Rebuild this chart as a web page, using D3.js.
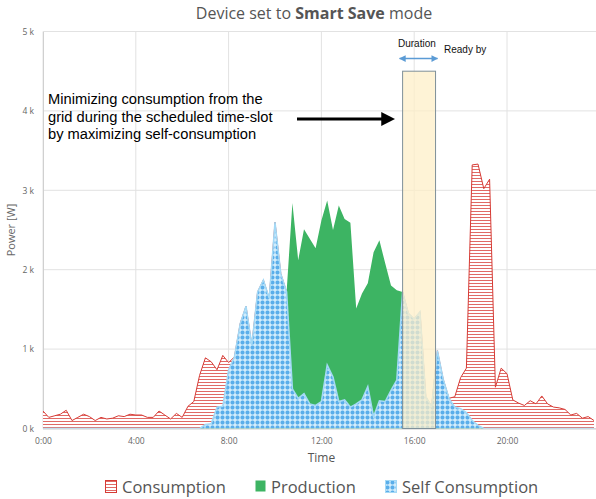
<!DOCTYPE html>
<html>
<head>
<meta charset="utf-8">
<script src="https://cdn.jsdelivr.net/npm/d3@7"></script>
<style>
  body { margin: 0; background: #fff; }
  svg { display: block; }
</style>
</head>
<body>
<div id="chart"></div>
<script>
// time axis, one sample every 15 minutes (0:00 .. 23:45)
const hours = d3.range(96).map(i => i * 0.25);

// power values in W
const consumption = [
  220, 140, 160, 180, 230, 100, 140, 180, 150, 100, 140, 120,
  130, 160, 150, 180, 170, 170, 140, 140, 220, 170, 120, 190,
  140, 280, 340, 670, 890, 840, 740, 920, 830, 900, 1320, 1540,
  1050, 1720, 1870, 1640, 2600, 1950, 1720, 500, 380, 440, 310, 290,
  340, 800, 650, 340, 360, 270, 310, 360, 530, 150, 350, 340,
  480, 610, 1720, 1450, 1380, 1470, 400, 280, 980, 620, 380, 400,
  640, 760, 3320, 3330, 3020, 3140, 520, 760, 690, 360, 320, 290,
  350, 310, 410, 310, 270, 260, 240, 170, 190, 130, 150, 100
];
const production = [
  0, 0, 0, 0, 0, 0, 0, 0, 0, 0, 0, 0,
  0, 0, 0, 0, 0, 0, 0, 0, 0, 0, 0, 0,
  0, 0, 0, 0, 50, 60, 270, 280, 740, 900, 1320, 1540,
  1050, 1720, 1870, 1640, 2600, 1950, 1720, 2840, 2120, 2510, 2390, 2270,
  2620, 2870, 2500, 2810, 2640, 2590, 1510, 1700, 1830, 2220, 2370, 2080,
  1800, 1740, 1720, 1450, 1380, 1470, 400, 280, 980, 620, 380, 270,
  250, 200, 100, 40, 0, 0, 0, 0, 0, 0, 0, 0,
  0, 0, 0, 0, 0, 0, 0, 0, 0, 0, 0, 0
];
const selfConsumption = [
  0, 0, 0, 0, 0, 0, 0, 0, 0, 0, 0, 0,
  0, 0, 0, 0, 0, 0, 0, 0, 0, 0, 0, 0,
  0, 0, 0, 0, 50, 60, 270, 280, 740, 900, 1320, 1540,
  1050, 1720, 1870, 1640, 2600, 1950, 1720, 500, 380, 440, 310, 290,
  340, 800, 650, 340, 360, 270, 310, 360, 530, 150, 350, 340,
  480, 610, 1720, 1450, 1380, 1470, 400, 280, 980, 620, 380, 270,
  250, 200, 100, 40, 0, 0, 0, 0, 0, 0, 0, 0,
  0, 0, 0, 0, 0, 0, 0, 0, 0, 0, 0, 0
];

const xTicks = [0, 4, 8, 12, 16, 20];
const yTicks = [0, 1000, 2000, 3000, 4000, 5000];
const legendItems = ["Consumption", "Production", "Self Consumption"];

// scheduled time-slot of the device (hours) and its marker height (W)
const slotStart = 15.5;
const slotEnd = 16.92;
const slotTop = 4500;

const width = 596, height = 499;
const plot = { left: 43, right: 596, top: 31.5, bottom: 428.5 };

const x = d3.scaleLinear().domain([0, 24]).range([plot.left, 599.8]);
const y = d3.scaleLinear().domain([0, 5000]).range([plot.bottom, plot.top]);

const svg = d3.select("#chart").append("svg")
  .attr("width", width)
  .attr("height", height);

// patterns
const defs = svg.append("defs");
const hatch = defs.append("pattern")
  .attr("id", "hatch")
  .attr("patternUnits", "userSpaceOnUse")
  .attr("width", 6).attr("height", 3);
hatch.append("rect").attr("width", 6).attr("height", 3).attr("fill", "#fff");
hatch.append("rect").attr("y", 1).attr("width", 6).attr("height", 1)
  .attr("fill", "#e06a66");

const dots = defs.append("pattern")
  .attr("id", "dots")
  .attr("patternUnits", "userSpaceOnUse")
  .attr("width", 5).attr("height", 5);
dots.append("rect").attr("width", 5).attr("height", 5).attr("fill", "#d2edfc");
dots.append("rect").attr("x", 1).attr("y", 1).attr("width", 3).attr("height", 3).attr("fill", "#5aaeea");
dots.append("rect").attr("x", 1.5).attr("y", 0.5).attr("width", 2).attr("height", 4).attr("fill", "#5aaeea");
dots.append("rect").attr("x", 0.5).attr("y", 1.5).attr("width", 4).attr("height", 2).attr("fill", "#5aaeea");

defs.append("clipPath").attr("id", "plotClip")
  .append("rect")
  .attr("x", plot.left).attr("y", plot.top)
  .attr("width", plot.right - plot.left).attr("height", plot.bottom - plot.top);

// title
svg.append("text")
  .attr("x", 314).attr("y", 19)
  .attr("text-anchor", "middle")
  .attr("font-family", "Open Sans")
  .attr("font-size", 16)
  .attr("fill", "#555")
  .call(t => {
    t.append("tspan").text("Device set to ");
    t.append("tspan").attr("font-weight", "bold").text("Smart Save");
    t.append("tspan").text(" mode");
  });

// grid
svg.append("g").selectAll("line").data(yTicks).join("line")
  .attr("x1", plot.left).attr("x2", plot.right)
  .attr("y1", d => y(d)).attr("y2", d => y(d))
  .attr("stroke", "#e2e2e2");
svg.append("g").selectAll("line").data(xTicks).join("line")
  .attr("x1", d => x(d)).attr("x2", d => x(d))
  .attr("y1", plot.top).attr("y2", plot.bottom)
  .attr("stroke", "#e2e2e2");

// axes
const yAxis = svg.append("g")
  .attr("transform", `translate(${plot.left},0)`)
  .call(d3.axisLeft(y).tickValues(yTicks).tickSize(0).tickPadding(9)
    .tickFormat(d => d / 1000 + " k"));
yAxis.select(".domain").attr("stroke", "#d0d0d0");
yAxis.selectAll("text").attr("font-family", "Open Sans").attr("font-size", 8.5).attr("fill", "#666");

const xAxis = svg.append("g")
  .attr("transform", `translate(0,${plot.bottom})`)
  .call(d3.axisBottom(x).tickValues(xTicks).tickSize(0).tickPadding(9)
    .tickFormat(d => d + ":00"));
xAxis.select(".domain").attr("stroke", "#d0d0d0").attr("d", `M${plot.left},0.5H${plot.right}`);
xAxis.selectAll("text").attr("font-family", "Open Sans").attr("font-size", 8.5).attr("fill", "#666");

svg.append("text")
  .attr("transform", "translate(15,230) rotate(-90)")
  .attr("text-anchor", "middle")
  .attr("font-family", "Open Sans").attr("font-size", 11).attr("fill", "#666")
  .text("Power [W]");
svg.append("text")
  .attr("x", x(12)).attr("y", 462)
  .attr("text-anchor", "middle")
  .attr("font-family", "Open Sans").attr("font-size", 12).attr("fill", "#555")
  .text("Time");

// series
const area = values => d3.area()
  .x((d, i) => x(hours[i]))
  .y0(y(0))
  .y1(d => y(d))(values);
const line = values => d3.line()
  .x((d, i) => x(hours[i]))
  .y(d => y(d))(values);

const series = svg.append("g").attr("clip-path", "url(#plotClip)");

series.append("path").attr("d", area(consumption)).attr("fill", "url(#hatch)");
series.append("path").attr("d", line(consumption))
  .attr("fill", "none").attr("stroke", "#d63b35").attr("stroke-width", 1);

series.append("path").attr("d", area(production)).attr("fill", "#3db463");

series.append("path").attr("d", area(selfConsumption)).attr("fill", "url(#dots)");
series.append("path").attr("d", line(selfConsumption))
  .attr("fill", "none").attr("stroke", "#a4d9f6").attr("stroke-width", 1.5);

// scheduled slot
svg.append("rect")
  .attr("x", x(slotStart)).attr("y", y(slotTop))
  .attr("width", x(slotEnd) - x(slotStart))
  .attr("height", y(0) - y(slotTop))
  .attr("fill", "#fdefc6").attr("fill-opacity", 0.72)
  .attr("stroke", "#7f9099").attr("stroke-width", 1);

// duration arrow
defs.append("marker")
  .attr("id", "blueHead").attr("viewBox", "0 0 10 10")
  .attr("refX", 9).attr("refY", 5)
  .attr("markerWidth", 4.5).attr("markerHeight", 4.5)
  .attr("orient", "auto-start-reverse")
  .append("path").attr("d", "M0,0L10,5L0,10Z").attr("fill", "#5b9bd5");
svg.append("line")
  .attr("x1", x(slotStart) - 3).attr("x2", x(slotEnd) + 2)
  .attr("y1", 58.5).attr("y2", 58.5)
  .attr("stroke", "#5b9bd5").attr("stroke-width", 1.5)
  .attr("marker-start", "url(#blueHead)").attr("marker-end", "url(#blueHead)");
svg.append("text")
  .attr("x", 398).attr("y", 47)
  .attr("font-family", "Liberation Sans").attr("font-size", 10).attr("fill", "#111")
  .text("Duration");
svg.append("text")
  .attr("x", 444).attr("y", 53)
  .attr("font-family", "Liberation Sans").attr("font-size", 10).attr("fill", "#111")
  .text("Ready by");

// annotation text and arrow
const note = ["Minimizing consumption from the",
              "grid during the scheduled time-slot",
              "by maximizing self-consumption"];
svg.append("g").selectAll("text").data(note).join("text")
  .attr("x", 48).attr("y", (d, i) => 104 + i * 17.5)
  .attr("font-family", "Liberation Sans").attr("font-size", 14.7).attr("fill", "#000")
  .text(d => d);

defs.append("marker")
  .attr("id", "blackHead").attr("viewBox", "0 0 10 10")
  .attr("refX", 2).attr("refY", 5)
  .attr("markerWidth", 4.6).attr("markerHeight", 4.6)
  .attr("orient", "auto")
  .append("path").attr("d", "M0,0L10,5L0,10Z").attr("fill", "#000");
svg.append("line")
  .attr("x1", 297).attr("x2", 384)
  .attr("y1", 119).attr("y2", 119)
  .attr("stroke", "#000").attr("stroke-width", 3)
  .attr("marker-end", "url(#blackHead)");

// legend
const legendX = [105, 255, 385];
const legend = svg.append("g").selectAll("g").data(legendItems).join("g")
  .attr("transform", (d, i) => `translate(${legendX[i]},480)`);
legend.append("rect")
  .attr("x", 0.5).attr("y", 0.5)
  .attr("width", (d, i) => i === 1 ? 10 : 11).attr("height", (d, i) => i === 1 ? 11 : 12)
  .attr("fill", (d, i) => ["url(#hatch)", "#3db463", "url(#dots)"][i])
  .attr("stroke", (d, i) => ["#d63b35", "none", "#a4d9f6"][i]);
legend.append("text")
  .attr("x", (d, i) => i === 1 ? 16 : 17).attr("y", 13)
  .attr("font-family", "Open Sans").attr("font-size", 16.5).attr("fill", "#555")
  .text(d => d);
</script>
</body>
</html>
